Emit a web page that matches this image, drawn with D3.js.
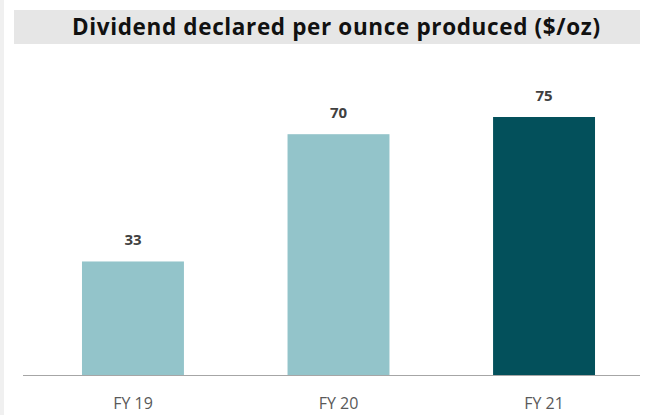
<!DOCTYPE html>
<html>
<head>
<meta charset="utf-8">
<script src="https://cdn.jsdelivr.net/npm/d3@7"></script>
<style>
  body { margin: 0; background: #fff; }
  svg { display: block; }
</style>
</head>
<body>
<div id="chart"></div>
<script>
const categories = ["FY 19", "FY 20", "FY 21"];
const values = [33, 70, 75];
const barColors = ["#93c4ca", "#93c4ca", "#03505b"];
const title = "Dividend declared per ounce produced ($/oz)";

function drawChart() {
    const width = 645;
    const height = 415;
    const baseline = 375;

    const svg = d3.select("#chart")
        .append("svg")
        .attr("width", width)
        .attr("height", height);

    // thin page edge on the left
    svg.append("rect")
        .attr("x", 0).attr("y", 0)
        .attr("width", 4).attr("height", height)
        .attr("fill", "#f0f0f0");

    // title band
    svg.append("rect")
        .attr("x", 14).attr("y", 10)
        .attr("width", 626).attr("height", 34)
        .attr("fill", "#e6e6e6");

    svg.append("text")
        .attr("x", 336).attr("y", 35)
        .attr("text-anchor", "middle")
        .attr("textLength", 528)
        .attr("lengthAdjust", "spacing")
        .style("font-family", "'Open Sans', sans-serif")
        .style("font-weight", "bold")
        .style("font-size", "22.5px")
        .style("fill", "#111")
        .text(title);

    const x = d3.scaleBand()
        .domain(categories)
        .range([30.6, 646.4])
        .paddingInner(0.504)
        .paddingOuter(0.25);

    const y = d3.scaleLinear()
        .domain([0, 75])
        .range([baseline, 117]);

    svg.selectAll("rect.bar")
        .data(values)
        .enter().append("rect")
        .attr("class", "bar")
        .attr("x", function(d, i) { return x(categories[i]); })
        .attr("y", function(d) { return y(d); })
        .attr("width", x.bandwidth())
        .attr("height", function(d) { return baseline - y(d); })
        .attr("fill", function(d, i) { return barColors[i]; });

    svg.selectAll("text.val")
        .data(values)
        .enter().append("text")
        .attr("class", "val")
        .attr("x", function(d, i) { return x(categories[i]) + x.bandwidth() / 2; })
        .attr("y", function(d) { return y(d) - 16; })
        .attr("text-anchor", "middle")
        .style("font-family", "'Open Sans', sans-serif")
        .style("font-weight", "bold")
        .style("font-size", "15px")
        .style("fill", "#404040")
        .text(function(d) { return d; });

    // x axis
    const axis = svg.append("g")
        .attr("transform", "translate(0," + baseline + ")")
        .call(d3.axisBottom(x).tickSize(0).tickPadding(23));
    axis.select(".domain")
        .attr("d", "M23,0.5H640")
        .attr("stroke", "#a6a6a6");
    axis.selectAll("text")
        .style("font-family", "'Open Sans', sans-serif")
        .style("font-size", "16px")
        .style("fill", "#595959");
}

document.addEventListener("DOMContentLoaded", drawChart);
</script>
</body>
</html>
